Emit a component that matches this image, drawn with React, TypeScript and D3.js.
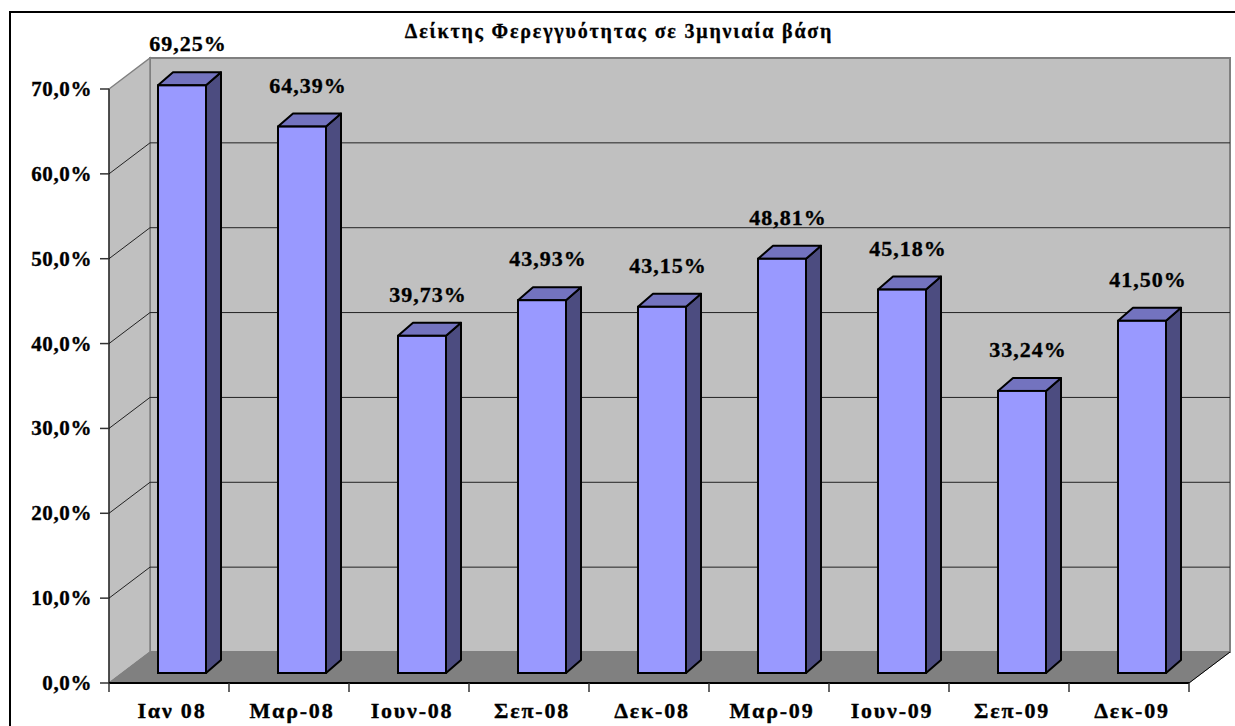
import React, { useRef, useEffect } from "react";
import { select, scaleBand, scaleLinear, range } from "d3";

// chart data
const categories = ["Ιαν 08", "Μαρ-08", "Ιουν-08", "Σεπ-08", "Δεκ-08", "Μαρ-09", "Ιουν-09", "Σεπ-09", "Δεκ-09"];
const values = [69.25, 64.39, 39.73, 43.93, 43.15, 48.81, 45.18, 33.24, 41.5];
const yTicks = [0, 10, 20, 30, 40, 50, 60, 70];
const title = "Δείκτης Φερεγγυότητας σε 3μηνιαία βάση";

const fmtTick = (v) => v.toFixed(1).replace(".", ",") + "%";
const fmtValue = (v) => v.toFixed(2).replace(".", ",") + "%";

function App() {
  const svgRef = useRef();

  useEffect(() => {
    const svg = select(svgRef.current);
    svg.selectAll("*").remove();

    const font = "Liberation Serif";

    // wall depth and bar depth offsets (pseudo 3d)
    const depthX = 41;
    const depthY = -31;
    const barShiftX = 13;
    const barShiftY = -10;
    const barDX = 15;
    const barDY = -13;

    const xScale = scaleBand().domain(categories).range([109, 1189]).padding(0);
    const yScale = scaleLinear().domain([0, 70]).range([683, 89]);

    const left = xScale.range()[0];
    const right = xScale.range()[1];

    // outer frame
    svg
      .append("rect")
      .attr("x", 10)
      .attr("y", 12)
      .attr("width", 1250)
      .attr("height", 740)
      .attr("fill", "#fff")
      .attr("stroke", "#000")
      .attr("stroke-width", 2);

    // back wall
    svg
      .append("rect")
      .attr("x", left + depthX)
      .attr("y", yScale(70) + depthY)
      .attr("width", right - left)
      .attr("height", yScale(0) - yScale(70))
      .attr("fill", "#c0c0c0")
      .attr("stroke", "#808080")
      .attr("stroke-width", 2);

    // side wall
    svg
      .append("polygon")
      .attr(
        "points",
        [
          [left, yScale(0)],
          [left + depthX, yScale(0) + depthY],
          [left + depthX, yScale(70) + depthY],
          [left, yScale(70)],
        ].join(" ")
      )
      .attr("fill", "#c0c0c0")
      .attr("stroke", "#808080")
      .attr("stroke-width", 1.5);

    // floor
    svg
      .append("polygon")
      .attr(
        "points",
        [
          [left, yScale(0)],
          [right, yScale(0)],
          [right + depthX, yScale(0) + depthY],
          [left + depthX, yScale(0) + depthY],
        ].join(" ")
      )
      .attr("fill", "#808080")
      .attr("stroke", "#808080");

    // gridlines
    const inner = yTicks.filter((t) => t > 0 && t < 70);
    svg
      .selectAll(".grid")
      .data(inner)
      .join("line")
      .attr("class", "grid")
      .attr("x1", left + depthX)
      .attr("x2", right + depthX)
      .attr("y1", (d) => yScale(d) + depthY)
      .attr("y2", (d) => yScale(d) + depthY)
      .attr("stroke", "#222")
      .attr("stroke-width", 1);
    svg
      .selectAll(".gridside")
      .data(inner)
      .join("line")
      .attr("class", "gridside")
      .attr("x1", left)
      .attr("x2", left + depthX)
      .attr("y1", (d) => yScale(d))
      .attr("y2", (d) => yScale(d) + depthY)
      .attr("stroke", "#222")
      .attr("stroke-width", 1);

    // front floor edges
    svg
      .append("line")
      .attr("x1", left)
      .attr("x2", right)
      .attr("y1", yScale(0))
      .attr("y2", yScale(0))
      .attr("stroke", "#000")
      .attr("stroke-width", 2);
    svg
      .append("line")
      .attr("x1", right)
      .attr("x2", right + depthX)
      .attr("y1", yScale(0))
      .attr("y2", yScale(0) + depthY)
      .attr("stroke", "#000")
      .attr("stroke-width", 1);

    // y axis
    svg
      .append("line")
      .attr("x1", left)
      .attr("x2", left)
      .attr("y1", yScale(70))
      .attr("y2", yScale(0))
      .attr("stroke", "#000")
      .attr("stroke-width", 1);
    svg
      .selectAll(".ytick")
      .data(yTicks)
      .join("line")
      .attr("class", "ytick")
      .attr("x1", left - 9)
      .attr("x2", left)
      .attr("y1", (d) => yScale(d))
      .attr("y2", (d) => yScale(d))
      .attr("stroke", "#333")
      .attr("stroke-width", 1.5);
    svg
      .selectAll(".ylabel")
      .data(yTicks)
      .join("text")
      .attr("class", "ylabel")
      .attr("x", left - 17)
      .attr("y", (d) => yScale(d) + 7)
      .attr("text-anchor", "end")
      .style("font-family", font)
      .attr("font-weight", "bold")
      .attr("font-size", 21)
      .attr("letter-spacing", 0.6)
      .attr("stroke", "#000")
      .attr("stroke-width", 0.35)
      .text((d) => fmtTick(d));

    // x axis ticks + labels
    const xTickPos = range(categories.length + 1).map((i) => left + i * xScale.bandwidth());
    svg
      .selectAll(".xtick")
      .data(xTickPos)
      .join("line")
      .attr("class", "xtick")
      .attr("x1", (d) => d)
      .attr("x2", (d) => d)
      .attr("y1", yScale(0))
      .attr("y2", yScale(0) + 9)
      .attr("stroke", "#333")
      .attr("stroke-width", 1.5);
    svg
      .selectAll(".xlabel")
      .data(categories)
      .join("text")
      .attr("class", "xlabel")
      .attr("x", (d) => xScale(d) + xScale.bandwidth() / 2 + 3)
      .attr("y", 718)
      .attr("text-anchor", "middle")
      .style("font-family", font)
      .attr("font-weight", "bold")
      .attr("font-size", 22)
      .attr("letter-spacing", 1.8)
      .attr("stroke", "#000")
      .attr("stroke-width", 0.35)
      .text((d) => d);

    // bars
    const barW = xScale.bandwidth() * 0.4;
    const bars = svg
      .selectAll(".bar")
      .data(values)
      .join("g")
      .attr("class", "bar");

    const bx = (d, i) => xScale(categories[i]) + xScale.bandwidth() * 0.3 + barShiftX;
    const by0 = yScale(0) + barShiftY;
    const byTop = (d) => yScale(d) + barShiftY;

    // side face
    bars
      .append("polygon")
      .attr("points", (d, i) => {
        const x = bx(d, i) + barW;
        return [
          [x, by0],
          [x + barDX, by0 + barDY],
          [x + barDX, byTop(d) + barDY],
          [x, byTop(d)],
        ].join(" ");
      })
      .attr("fill", "#4c4c80")
      .attr("stroke", "#000")
      .attr("stroke-width", 2)
      .attr("stroke-linejoin", "round");
    // top face
    bars
      .append("polygon")
      .attr("points", (d, i) => {
        const x = bx(d, i);
        const y = byTop(d);
        return [
          [x, y],
          [x + barDX, y + barDY],
          [x + barW + barDX, y + barDY],
          [x + barW, y],
        ].join(" ");
      })
      .attr("fill", "#7373bf")
      .attr("stroke", "#000")
      .attr("stroke-width", 2)
      .attr("stroke-linejoin", "round");
    // front face
    bars
      .append("rect")
      .attr("x", (d, i) => bx(d, i))
      .attr("y", (d) => byTop(d))
      .attr("width", barW)
      .attr("height", (d) => by0 - byTop(d))
      .attr("fill", "#9999ff")
      .attr("stroke", "#000")
      .attr("stroke-width", 2);

    // value labels
    svg
      .selectAll(".vlabel")
      .data(values)
      .join("text")
      .attr("class", "vlabel")
      .attr("x", (d, i) => bx(d, i) + barW / 2 + 6)
      .attr("y", (d) => byTop(d) - 34)
      .attr("text-anchor", "middle")
      .style("font-family", font)
      .attr("font-weight", "bold")
      .attr("font-size", 22)
      .attr("letter-spacing", 1)
      .attr("stroke", "#000")
      .attr("stroke-width", 0.35)
      .text((d) => fmtValue(d));

    // title
    svg
      .append("text")
      .attr("x", 619)
      .attr("y", 38)
      .attr("text-anchor", "middle")
      .style("font-family", font)
      .attr("font-weight", "bold")
      .attr("font-size", 20)
      .attr("letter-spacing", 1.8)
      .attr("stroke", "#000")
      .attr("stroke-width", 0.3)
      .text(title);
  }, []);

  return (
    <svg
      ref={svgRef}
      width={1235}
      height={726}
      style={{ position: "absolute", left: 0, top: 0, background: "#fff" }}
    ></svg>
  );
}

export default App;
